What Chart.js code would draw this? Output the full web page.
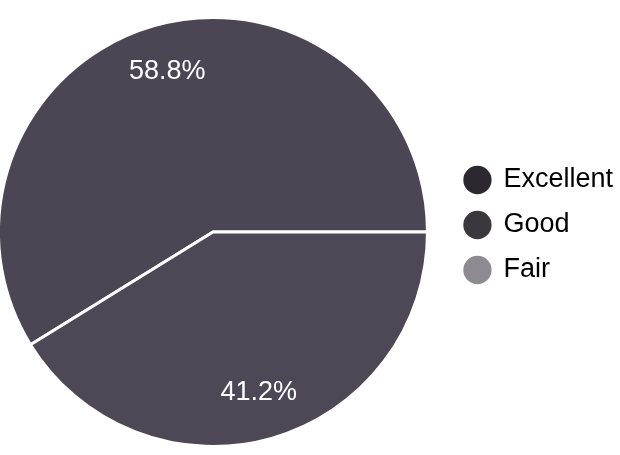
<!DOCTYPE html>
<html>
<head>
<meta charset="utf-8">
<script src="https://cdn.jsdelivr.net/npm/chart.js@4.4.1/dist/chart.umd.min.js"></script>
<style>
  html, body { margin: 0; padding: 0; background: #fff; overflow: hidden; }
  #wrap { position: absolute; left: -21px; top: 0; width: 644px; height: 455px; }
</style>
</head>
<body>
<div id="wrap"><canvas id="pie"></canvas></div>
<script>
// data
var categories = ["Excellent", "Good", "Fair"];
var shares = [58.8, 41.2, 0];
var sliceColors = ["#4c4654", "#4d4756", "#8d8b91"];
var legendColors = ["#2b292f", "#3a383e", "#8d8b91"];

// percent labels inside the slices
var sliceLabels = {
  id: "sliceLabels",
  afterDatasetsDraw: function (chart) {
    var ctx = chart.ctx;
    var meta = chart.getDatasetMeta(0);
    var total = shares.reduce(function (a, b) { return a + b; }, 0);
    ctx.save();
    ctx.fillStyle = "#ffffff";
    ctx.font = "27px 'Liberation Sans', Arial, sans-serif";
    ctx.textAlign = "center";
    ctx.textBaseline = "middle";
    meta.data.forEach(function (arc, i) {
      if (!shares[i]) return;
      var p = arc.getProps(["x", "y", "startAngle", "endAngle", "outerRadius"], true);
      var mid = (p.startAngle + p.endAngle) / 2;
      var r = p.outerRadius * 0.78;
      ctx.fillText((shares[i] / total * 100).toFixed(1) + "%", p.x + Math.cos(mid) * r, p.y + Math.sin(mid) * r);
    });
    ctx.restore();
  }
};

// nudge the legend a little higher than the pie centre
var legendNudge = {
  id: "legendNudge",
  afterUpdate: function (chart) {
    chart.legend.top -= 7;
    chart.legend.bottom -= 7;
  }
};

var ctx = document.getElementById("pie");
var myChart = new Chart(ctx, {
  type: "pie",
  data: {
    labels: categories,
    datasets: [{
      data: shares,
      backgroundColor: sliceColors,
      borderColor: "#ffffff",
      borderWidth: 3
    }]
  },
  options: {
    responsive: true,
    maintainAspectRatio: false,
    animation: false,
    rotation: 238.3,
    layout: { padding: { top: 16, bottom: 7, left: 0, right: 0 } },
    plugins: {
      tooltip: { enabled: false },
      legend: {
        position: "right",
        align: "center",
        labels: {
          usePointStyle: true,
          pointStyle: "circle",
          boxWidth: 25,
          boxHeight: 20,
          padding: 18,
          color: "#1a1a1a",
          font: { family: "'Liberation Sans', Arial, sans-serif", size: 27 },
          generateLabels: function (chart) {
            return categories.map(function (c, i) {
              return {
                text: c,
                fillStyle: legendColors[i],
                strokeStyle: legendColors[i],
                lineWidth: 0,
                pointStyle: "circle",
                hidden: false,
                index: i
              };
            });
          }
        }
      }
    }
  },
  plugins: [sliceLabels, legendNudge]
});
</script>
</body>
</html>
